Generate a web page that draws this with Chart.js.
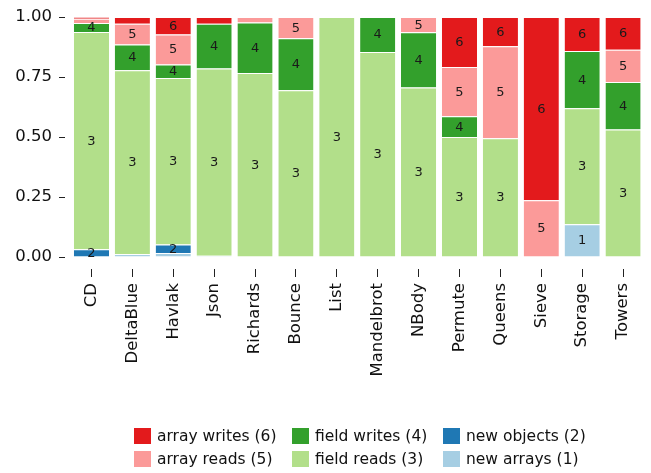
<!DOCTYPE html>
<html>
<head>
  <script src="https://cdn.jsdelivr.net/npm/chart.js"></script>
  <style>
    body { margin: 0; background: #fff; font-family: 'DejaVu Sans', sans-serif; }
    #wrap { position: relative; width: 651px; height: 473px; }
    #legend {
      position: absolute; left: 134px; top: 424px;
      display: grid; grid-auto-flow: column;
      grid-template-rows: 23px 23px;
      grid-template-columns: 158px 151px auto;
      font-size: 15.5px; color: #111;
    }
    .item { display: flex; align-items: center; white-space: nowrap; }
    .box { width: 17px; height: 16px; margin-right: 6px; }
  </style>
</head>
<body>
  <div id="wrap">
    <canvas id="barChart" width="651" height="473"></canvas>
    <div id="legend"></div>
  </div>
  <script>
    // benchmarks on the x axis
    const categories = ['CD', 'DeltaBlue', 'Havlak', 'Json', 'Richards', 'Bounce', 'List',
      'Mandelbrot', 'NBody', 'Permute', 'Queens', 'Sieve', 'Storage', 'Towers'];

    // share of each operation kind, stacked bottom to top
    const newArrays   = [0,     0.012, 0.017, 0.005, 0,     0,     0,   0,     0,     0,     0,     0,     0.136, 0];
    const newObjects  = [0.032, 0,     0.035, 0,     0,     0,     0,   0,     0,     0,     0,     0,     0,     0];
    const fieldReads  = [0.905, 0.766, 0.694, 0.78,  0.767, 0.695, 1.0, 0.854, 0.706, 0.5,   0.495, 0,     0.484, 0.531];
    const fieldWrites = [0.038, 0.107, 0.056, 0.187, 0.21,  0.216, 0,   0.146, 0.23,  0.086, 0,     0,     0.238, 0.198];
    const arrayReads  = [0.018, 0.087, 0.125, 0,     0.023, 0.089, 0,   0,     0.064, 0.206, 0.383, 0.236, 0,     0.135];
    const arrayWrites = [0.007, 0.028, 0.073, 0.028, 0,     0,     0,   0,     0,     0.208, 0.122, 0.764, 0.142, 0.136];

    const seriesNames  = ['new arrays (1)', 'new objects (2)', 'field reads (3)', 'field writes (4)', 'array reads (5)', 'array writes (6)'];
    const seriesLabels = ['1', '2', '3', '4', '5', '6'];
    const seriesColors = ['#a6cee3', '#1f78b4', '#b2df8a', '#33a02c', '#fb9a99', '#e31a1c'];
    const seriesValues = [newArrays, newObjects, fieldReads, fieldWrites, arrayReads, arrayWrites];

    const yTicks = [0, 0.25, 0.5, 0.75, 1.0];

    const datasets = seriesValues.map((vals, i) => ({
      label: seriesNames[i],
      code: seriesLabels[i],
      data: vals,
      backgroundColor: seriesColors[i],
      borderColor: '#ffffff',
      borderWidth: { top: 1, bottom: 0, left: 0, right: 0 },
      borderSkipped: 'start',
      barPercentage: 0.86,
      categoryPercentage: 1.0
    }));

    // numbers inside the segments that are big enough
    const segmentLabels = {
      id: 'segmentLabels',
      afterDatasetsDraw(chart) {
        const ctx = chart.ctx;
        ctx.save();
        ctx.font = '13px "DejaVu Sans"';
        ctx.fillStyle = '#1a1a1a';
        ctx.textAlign = 'center';
        ctx.textBaseline = 'middle';
        chart.data.datasets.forEach((ds, di) => {
          const meta = chart.getDatasetMeta(di);
          meta.data.forEach((bar, j) => {
            if (ds.data[j] < 0.03) return;
            ctx.fillText(ds.code, bar.x, (bar.y + bar.base) / 2 + 0.5);
          });
        });
        ctx.restore();
      }
    };

    const ctx = document.getElementById('barChart').getContext('2d');
    new Chart(ctx, {
      type: 'bar',
      data: { labels: categories, datasets: datasets },
      plugins: [segmentLabels],
      options: {
        responsive: false,
        animation: false,
        layout: { padding: { top: 17, right: 7.5, bottom: 0, left: 0 } },
        plugins: { legend: { display: false }, tooltip: { enabled: false } },
        scales: {
          x: {
            stacked: true,
            border: { display: false },
            grid: {
              offset: false,
              drawOnChartArea: false,
              tickLength: 20,
              tickColor: '#222',
              tickBorderDash: [0, 12, 8, 100]
            },
            ticks: {
              color: '#111',
              font: { family: 'DejaVu Sans', size: 16.5 },
              minRotation: 90,
              maxRotation: 90,
              padding: 6,
              autoSkip: false
            },
            afterFit: s => { s.height = 216; }
          },
          y: {
            stacked: true,
            min: 0,
            max: 1,
            border: { display: false },
            grid: {
              drawOnChartArea: false,
              tickLength: 12,
              tickColor: '#222',
              tickBorderDash: [6, 100]
            },
            afterBuildTicks: s => { s.ticks = yTicks.map(v => ({ value: v })); },
            ticks: {
              color: '#111',
              font: { family: 'DejaVu Sans', size: 16.5 },
              padding: 7,
              callback: v => v.toFixed(2)
            },
            afterFit: s => { s.width = 71; }
          }
        }
      }
    });

    // legend in three columns, top series first
    const legend = document.getElementById('legend');
    for (let i = seriesNames.length - 1; i >= 0; i--) {
      const item = document.createElement('div');
      item.className = 'item';
      item.innerHTML = '<span class="box" style="background:' + seriesColors[i] + '"></span>' + seriesNames[i];
      legend.appendChild(item);
    }
  </script>
</body>
</html>
